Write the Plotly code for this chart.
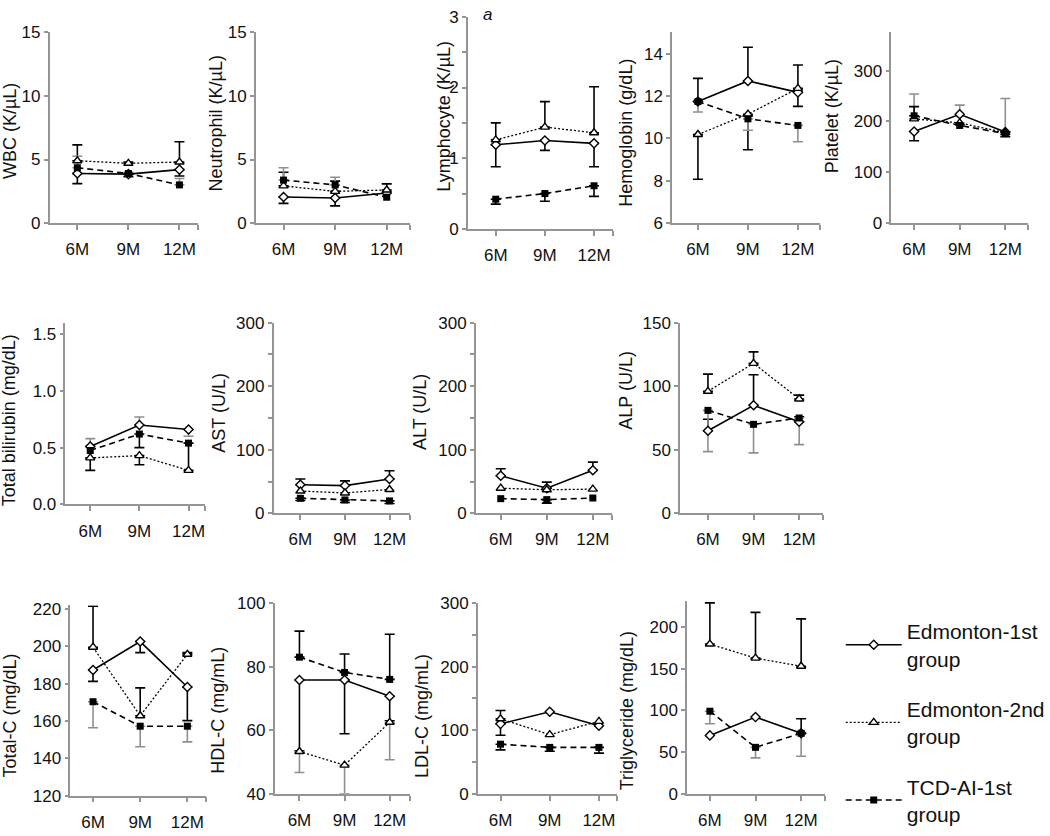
import plotly.graph_objects as go

W, H = 1050, 836

months = ["6M", "9M", "12M"]
series_names = ["Edmonton-1st<br>group", "Edmonton-2nd<br>group", "TCD-AI-1st<br>group"]

# ---- data: means [Edm-1st, Edm-2nd, TCD-AI-1st] and error-bar end values ----
wbc_mean = [[3.9, 3.85, 4.2], [4.9, 4.7, 4.8], [4.35, 3.9, 3.0]]
wbc_err = [[3.1, 3.65, 3.7], [6.15, 4.8, 6.4], [5.25, 4.0, 3.5]]
wbc_err_color = ["black", "black", "gray"]

neu_mean = [[2.05, 1.97, 2.36], [2.92, 2.49, 2.6], [3.38, 3.0, 2.03]]
neu_err = [[1.55, 1.35, None], [4.0, 3.3, 3.08], [4.35, 3.6, None]]
neu_err_color = ["black", "black", "gray"]

lym_mean = [[1.19, 1.25, 1.21], [1.26, 1.44, 1.36], [0.42, 0.5, 0.61]]
lym_err = [[0.88, 1.11, 0.88], [1.5, 1.8, 2.01], [0.35, 0.39, 0.46]]
lym_err_color = ["black", "black", "black"]

hgb_mean = [[11.74, 12.71, 12.17], [10.18, 11.14, 12.36], [11.74, 10.92, 10.61]]
hgb_err = [[12.83, 14.3, 13.46], [8.07, 9.46, 11.51], [11.24, 10.38, 9.84]]
hgb_err_color = ["black", "black", "gray"]

plt_mean = [[180, 214, 179], [205, 197, 178], [211, 192, 176]]
plt_err = [[162, None, 170], [254, 232, 245], [229, None, None]]
plt_err_color = ["black", "gray", "black"]

bil_mean = [[0.51, 0.70, 0.66], [0.41, 0.43, 0.30], [0.475, 0.62, 0.54]]
bil_err = [[0.58, 0.77, 0.60], [0.30, 0.35, None], [None, 0.50, 0.30]]
bil_err_color = ["gray", "black", "black"]

ast_mean = [[45, 43.6, 54], [35, 32, 37.5], [23.6, 21, 19.5]]
ast_err = [[54, 51, 67], [None, None, None], [20, 17, 15.4]]
ast_err_color = ["black", "black", "black"]

alt_mean = [[59, 39.5, 67.7], [39.5, 37, 38], [23, 21.5, 24]]
alt_err = [[70, 49, 80.5], [None, None, None], [None, 16, None]]
alt_err_color = ["black", "black", "black"]

alp_mean = [[65, 85, 72], [96, 118, 90], [81, 70, 75]]
alp_err = [[74, 109, 76], [109.5, 127, 93], [48.5, 47.5, 54]]
alp_err_color = ["black", "black", "gray"]

tc_mean = [[187.3, 202.5, 178.2], [199.5, 162.8, 195.7], [170.3, 157.2, 157.2]]
tc_err = [[181.2, 196.6, 160.2], [221.4, 177.7, 196.6], [156.4, 146.2, 148.8]]
tc_err_color = ["black", "black", "gray"]

hdl_mean = [[75.8, 75.8, 70.7], [53.3, 49, 62.5], [83, 78.2, 76]]
hdl_err = [[53.5, 58.9, 63], [46.7, 40, 50.7], [91.2, 84, 90.2]]
hdl_err_color = ["black", "gray", "black"]

ldl_mean = [[110, 129, 107], [118, 93, 114], [78, 73, 73]]
ldl_err = [[92, None, None], [131, None, None], [69, 67, 64]]
ldl_err_color = ["black", "black", "black"]

tg_mean = [[70, 92, 72.5], [179.6, 162.7, 153], [99, 55.7, 72.5]]
tg_err = [[None, None, 90], [229, 217.6, 209.8], [84, 43, 45]]
tg_err_color = ["black", "black", "gray"]

# y tick values / labels per panel
wbc_ticks = [0, 5, 10, 15]
lym_ticks = [0, 0.5, 1, 1.5, 2, 2.5, 3]
lym_ticklabels = ["0", "", "1", "", "2", "", "3"]
hgb_ticks = [6, 8, 10, 12, 14]
plt_ticks = [0, 100, 200, 300]
bil_ticks = [0, 0.5, 1.0, 1.5]
bil_ticklabels = ["0.0", "0.5", "1.0", "1.5"]
u300_ticks = [0, 50, 100, 150, 200, 250, 300]
u300_ticklabels = ["0", "", "100", "", "200", "", "300"]
alp_ticks = [0, 50, 100, 150]
tc_ticks = [120, 140, 160, 180, 200, 220]
hdl_ticks = [40, 60, 80, 100]
tg_ticks = [0, 50, 100, 150, 200]

# ---- layout of panels (pixel boxes) ----
panels = [
    dict(title="WBC (K/µL)", mean=wbc_mean, err=wbc_err, ec=wbc_err_color, tv=wbc_ticks, tt=None,
         box=(50, 200, 24, 219), xr=[-0.544, 2.369], yr=[0, 15], tpos=(10, 125)),
    dict(title="Neutrophil (K/µL)", mean=neu_mean, err=neu_err, ec=neu_err_color, tv=wbc_ticks, tt=None,
         box=(258, 414, 24, 219), xr=[-0.538, 2.46], yr=[0, 15], tpos=(218, 117)),
    dict(title="Lymphocyte (K/µL)", mean=lym_mean, err=lym_err, ec=lym_err_color, tv=lym_ticks, tt=lym_ticklabels,
         box=(472, 618, 8, 225), xr=[-0.566, 2.38], yr=[0, 3], tpos=(448, 110)),
    dict(title="Hemoglobin (g/dL)", mean=hgb_mean, err=hgb_err, ec=hgb_err_color, tv=hgb_ticks, tt=None,
         box=(678, 827, 24, 219), xr=[-0.515, 2.44], yr=[6, 15], tpos=(632, 127)),
    dict(title="Platelet (K/µL)", mean=plt_mean, err=plt_err, ec=plt_err_color, tv=plt_ticks, tt=None,
         box=(899, 1037, 24, 219), xr=[-0.5, 2.5], yr=[0, 375], tpos=(840, 110)),
    dict(title="Total bilirubin (mg/dL)", mean=bil_mean, err=bil_err, ec=bil_err_color, tv=bil_ticks, tt=bil_ticklabels,
         box=(66, 207, 321, 507), xr=[-0.505, 2.34], yr=[0, 1.6], tpos=(10, 421)),
    dict(title="AST (U/L)", mean=ast_mean, err=ast_err, ec=ast_err_color, tv=u300_ticks, tt=u300_ticklabels,
         box=(276, 414, 321, 516), xr=[-0.6, 2.47], yr=[0, 300], tpos=(220, 413)),
    dict(title="ALT (U/L)", mean=alt_mean, err=alt_err, ec=alt_err_color, tv=u300_ticks, tt=u300_ticklabels,
         box=(480, 617, 321, 516), xr=[-0.54, 2.41], yr=[0, 300], tpos=(423, 412)),
    dict(title="ALP (U/L)", mean=alp_mean, err=alp_err, ec=alp_err_color, tv=alp_ticks, tt=None,
         box=(686, 830, 321, 516), xr=[-0.61, 2.52], yr=[0, 150], tpos=(632, 390)),
    dict(title="Total-C (mg/dL)", mean=tc_mean, err=tc_err, ec=tc_err_color, tv=tc_ticks, tt=None,
         box=(71, 208, 610, 805), xr=[-0.48, 2.4], yr=[120, 222], tpos=(10, 723)),
    dict(title="HDL-C (mg/mL)", mean=hdl_mean, err=hdl_err, ec=hdl_err_color, tv=hdl_ticks, tt=None,
         box=(277, 414, 608, 803), xr=[-0.55, 2.46], yr=[40, 100], tpos=(220, 718)),
    dict(title="LDL-C (mg/mL)", mean=ldl_mean, err=ldl_err, ec=ldl_err_color, tv=u300_ticks, tt=u300_ticklabels,
         box=(482, 622, 608, 803), xr=[-0.46, 2.36], yr=[0, 300], tpos=(425, 723)),
    dict(title="Triglyceride (mg/dL)", mean=tg_mean, err=tg_err, ec=tg_err_color, tv=tg_ticks, tt=None,
         box=(693, 832, 606, 803), xr=[-0.5, 2.52], yr=[0, 231], tpos=(632, 718)),
]

FONT = "Liberation Sans, Arial, sans-serif"
AXIS_GRAY = "#959595"
ERR_GRAY = "#8f8f8f"
styles = [
    dict(line=dict(color="black", width=1.6, dash="solid"),
         marker=dict(symbol="diamond", size=7, color="white", line=dict(color="black", width=1.4))),
    dict(line=dict(color="black", width=1.3, dash="2px,2px"),
         marker=dict(symbol="triangle-up", size=8, color="white", line=dict(color="black", width=1.4))),
    dict(line=dict(color="black", width=1.6, dash="6px,4px"),
         marker=dict(symbol="square", size=7, color="black", line=dict(color="black", width=0))),
]

fig = go.Figure()
layout = dict(width=W, height=H, margin=dict(l=0, r=0, t=0, b=0),
              paper_bgcolor="white", plot_bgcolor="white",
              font=dict(family=FONT, color="#111111"), annotations=[])

xi = [0, 1, 2]
for i, p in enumerate(panels):
    n = "" if i == 0 else str(i + 1)
    xref, yref = "x" + n, "y" + n
    xl, xr_, yt, yb = p["box"]
    layout["xaxis" + n] = dict(
        domain=[xl / W, xr_ / W], range=p["xr"], anchor=yref,
        tickmode="array", tickvals=[0, 1, 2, p["xr"][1]], ticktext=months + [""],
        ticks="outside", ticklen=5, tickcolor=AXIS_GRAY, tickwidth=1.5,
        showline=True, linecolor=AXIS_GRAY, linewidth=1.5,
        showgrid=False, zeroline=False, ticklabelstandoff=5,
        tickfont=dict(family=FONT, size=17, color="#111111"), fixedrange=True)
    yax = dict(
        domain=[1 - yb / H, 1 - yt / H], range=p["yr"], anchor=xref,
        tickmode="array", tickvals=p["tv"],
        ticks="outside", ticklen=4, tickcolor=AXIS_GRAY, tickwidth=1.5,
        showline=True, linecolor=AXIS_GRAY, linewidth=1.5,
        showgrid=False, zeroline=False,
        tickfont=dict(family=FONT, size=17, color="#111111"), fixedrange=True)
    if p["tt"] is not None:
        yax["ticktext"] = p["tt"]
    layout["yaxis" + n] = yax

    # error bars first (underneath the lines and markers)
    for s in range(3):
        ends = p["err"][s]
        xs, ys, up, dn = [], [], [], []
        for k in range(3):
            e = ends[k]
            if e is None:
                continue
            m = p["mean"][s][k]
            xs.append(xi[k]); ys.append(m)
            up.append(max(e - m, 0)); dn.append(max(m - e, 0))
        if not xs:
            continue
        col = "black" if p["ec"][s] == "black" else ERR_GRAY
        fig.add_trace(go.Scatter(
            x=xs, y=ys, xaxis=xref, yaxis=yref, mode="markers", cliponaxis=False,
            marker=dict(size=1, color="rgba(0,0,0,0)"), showlegend=False, hoverinfo="skip",
            error_y=dict(type="data", symmetric=False, array=up, arrayminus=dn,
                         color=col, thickness=1.6, width=5)))
    for s in range(3):
        fig.add_trace(go.Scatter(
            x=xi, y=p["mean"][s], xaxis=xref, yaxis=yref, mode="lines+markers",
            name=series_names[s], legendgroup="g%d" % s, showlegend=(i == 0), cliponaxis=False,
            line=styles[s]["line"], marker=styles[s]["marker"]))

    tx, ty = p["tpos"]
    layout["annotations"].append(dict(
        text=p["title"], x=tx / W, y=1 - ty / H, xref="paper", yref="paper",
        xanchor="center", yanchor="middle", textangle=-90, showarrow=False,
        font=dict(family=FONT, size=18, color="#111111")))

layout["annotations"].append(dict(
    text="<i>a</i>", x=492 / W, y=1 - 6 / H, xref="paper", yref="paper",
    xanchor="center", yanchor="middle", showarrow=False,
    font=dict(family=FONT, size=17, color="#111111")))

layout["legend"] = dict(x=848 / W, y=1 - 616 / H, xanchor="left", yanchor="top",
                        font=dict(family=FONT, size=21, color="#111111"),
                        tracegroupgap=20, itemwidth=56, bgcolor="rgba(0,0,0,0)",
                        valign="middle")
layout["showlegend"] = True

fig.update_layout(**layout)
fig.write_html("out.html", config={"displayModeBar": False},
               post_script="document.body.style.margin='0px';")
